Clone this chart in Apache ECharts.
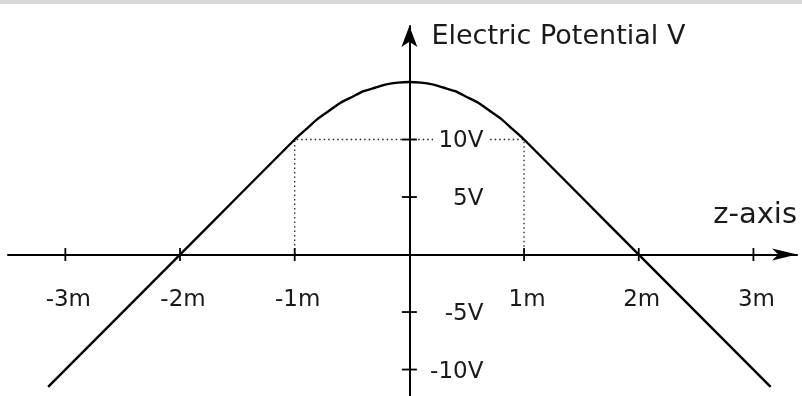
<!DOCTYPE html>
<html>
<head>
<meta charset="utf-8">
<title>Electric Potential V</title>
<script src="https://cdn.jsdelivr.net/npm/echarts@6/dist/echarts.min.js"></script>
<style>
  html, body { margin: 0; padding: 0; background: #fff; }
  #chart { width: 802px; height: 396px; }
</style>
</head>
<body>
<div id="chart"></div>
<script>
// Position along the z-axis (m) and the potential there (V)
const zValues   = [-3.15, -3.0, -2.5, -2.0, -1.5, -1.0, -0.9, -0.8, -0.7, -0.6, -0.5, -0.4, -0.3, -0.2, -0.1, 0,
                   0.1, 0.2, 0.3, 0.4, 0.5, 0.6, 0.7, 0.8, 0.9, 1.0, 1.5, 2.0, 2.5, 3.0, 3.15];
const potential = [-11.5, -10, -5, 0, 5, 10, 10.9, 11.8, 12.5, 13.2, 13.7, 14.2, 14.5, 14.8, 14.95, 15,
                   14.95, 14.8, 14.5, 14.2, 13.7, 13.2, 12.5, 11.8, 10.9, 10, 5, 0, -5, -10, -11.5];

// Tick positions and their labels
const zTicks  = [-3, -2, -1, 1, 2, 3];
const zLabels = ['-3m', '-2m', '-1m', '1m', '2m', '3m'];
const vTicks  = [-10, -5, 5, 10];
const vLabels = ['-10V', '-5V', '5V', '10V'];

// Dotted guide marking V = 10 V at z = ±1 m
const guideZ = [-1, -1, 1, 1];
const guideV = [0, 10, 10, 0];

const zip = (a, b) => a.map((v, i) => [v, b[i]]);
const font = '"DejaVu Sans", sans-serif';
const ink = '#1a1a1a';

const chart = echarts.init(document.getElementById('chart'), null, { renderer: 'canvas' });

chart.setOption({
  backgroundColor: '#ffffff',
  animation: false,
  graphic: [{
    type: 'rect', left: 0, top: 0, z: 100,
    shape: { width: 802, height: 4 },
    style: { fill: '#d7d8db' }
  }],
  grid: { left: 8, right: 5, top: 26, bottom: 0, containLabel: false, outerBoundsMode: 'none' },
  xAxis: {
    type: 'value',
    min: -3.5,
    max: 3.38,
    z: 3,
    name: 'z-axis',
    nameLocation: 'end',
    nameGap: 0,
    nameTextStyle: {
      fontFamily: font, fontSize: 29, color: ink,
      align: 'right', verticalAlign: 'bottom', padding: [0, 0, 25, 0]
    },
    axisLine: {
      onZero: true,
      symbol: ['none', 'arrow'],
      symbolSize: [9, 25],
      lineStyle: { color: '#000', width: 2 }
    },
    axisTick: { show: false },
    splitLine: { show: false },
    axisLabel: { show: false }
  },
  yAxis: {
    type: 'value',
    min: -12.3,
    max: 19.87,
    z: 3,
    name: 'Electric Potential V',
    nameLocation: 'end',
    nameGap: -11,
    nameTextStyle: {
      fontFamily: font, fontSize: 27, color: ink,
      align: 'left', verticalAlign: 'middle', padding: [0, 0, 0, 22]
    },
    axisLine: {
      onZero: true,
      symbol: ['none', 'arrow'],
      symbolSize: [12, 21],
      lineStyle: { color: '#000', width: 2 }
    },
    axisTick: { show: false },
    splitLine: { show: false },
    axisLabel: { show: false }
  },
  series: [
    {
      name: 'guide',
      type: 'line',
      data: zip(guideZ, guideV),
      symbol: 'none',
      silent: true,
      z: 1,
      lineStyle: { color: '#222', width: 1.3, type: [1.5, 3] }
    },
    {
      name: 'Electric Potential',
      type: 'line',
      data: zip(zValues, potential),
      symbol: 'none',
      smooth: 0.2,
      z: 2,
      lineStyle: { color: '#000', width: 2.4 }
    },
    {
      // crossing tick marks on the z-axis, labelled underneath
      name: 'z ticks',
      type: 'scatter',
      data: zTicks.map(z => [z, 0]),
      symbol: 'rect',
      symbolSize: [1.8, 13],
      itemStyle: { color: '#000', opacity: 1 },
      silent: true,
      z: 4,
      label: {
        show: true,
        position: 'inside',
        offset: [3, 45],
        align: 'center',
        verticalAlign: 'middle',
        fontFamily: font, fontSize: 23, color: ink,
        formatter: p => zLabels[p.dataIndex]
      }
    },
    {
      // crossing tick marks on the potential axis, labelled to the right
      name: 'V ticks',
      type: 'scatter',
      data: vTicks.map(v => [0, v]),
      symbol: 'rect',
      symbolSize: [15, 1.8],
      itemStyle: { color: '#000', opacity: 1 },
      silent: true,
      z: 4,
      label: {
        show: true,
        position: 'inside',
        offset: [79, 2],
        align: 'right',
        verticalAlign: 'middle',
        backgroundColor: '#ffffff',
        padding: [2, 5, 2, 5],
        fontFamily: font, fontSize: 23, color: ink,
        formatter: p => vLabels[p.dataIndex]
      }
    }
  ]
});
</script>
</body>
</html>
